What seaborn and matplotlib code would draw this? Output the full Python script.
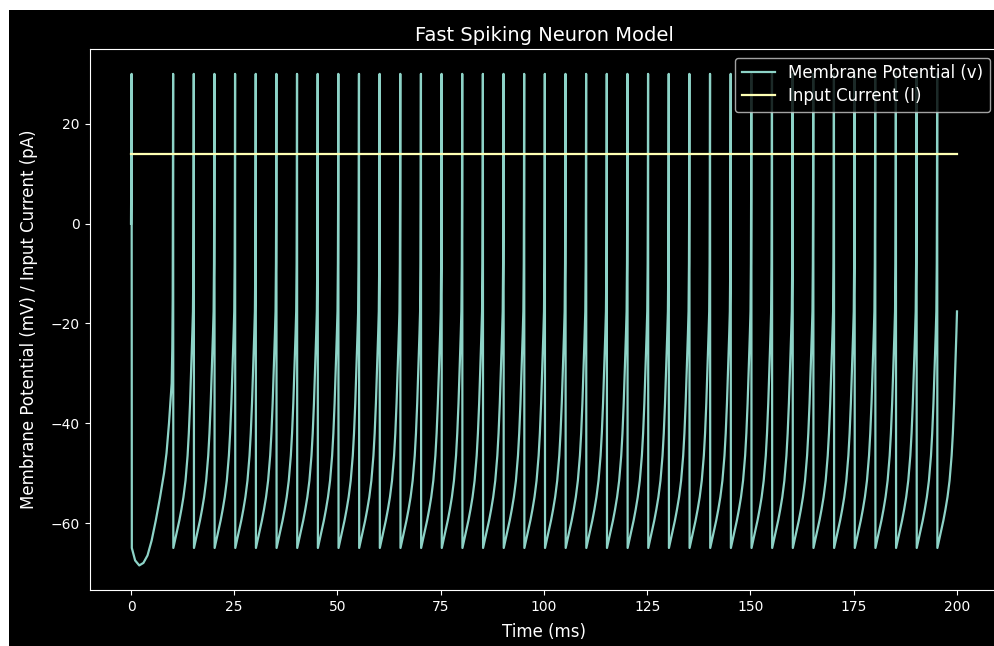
import matplotlib
matplotlib.use("Agg")
import matplotlib.pyplot as plt
from matplotlib.patches import Rectangle
import seaborn as sns
import pandas as pd

# ---- data ----
spike_times = [0.0, 10.2, 15.2, 20.2, 25.2, 30.2, 35.2, 40.2, 45.2, 50.2,
               55.2, 60.2, 65.2, 70.2, 75.2, 80.2, 85.2, 90.2, 95.2, 100.2,
               105.2, 110.2, 115.2, 120.2, 125.2, 130.2, 135.2, 140.2, 145.2,
               150.2, 155.2, 160.2, 165.2, 170.2, 175.2, 180.2, 185.2, 190.2,
               195.2]
spike_peak = 30.0
reset_v = -65.0

# first interval (start of simulation up to second spike)
first_t = [0.0, 0.1, 0.15, 0.2, 1.0, 2.0, 3.0, 4.0, 5.0, 6.0, 7.0, 8.0,
           8.6, 9.2, 9.6, 9.85, 10.0, 10.1]
first_v = [0.0, 15.4, 30.0, -65.0, -67.5, -68.5, -68.0, -66.5, -63.5, -59.5,
           -55.0, -50.0, -46.0, -40.0, -35.0, -32.0, -25.0, -15.0]

# recovery shape after each reset (ms after spike, mV)
isi_offsets = [0.05, 0.5, 1.0, 1.5, 2.0, 2.5, 3.0, 3.5, 3.8, 4.1, 4.3, 4.5,
               4.65, 4.8, 4.9, 4.95]
isi_values = [-65.0, -63.3, -61.5, -59.5, -57.3, -54.8, -51.5, -46.5, -42.0,
              -36.0, -31.0, -26.0, -22.0, -17.6, -8.0, 5.0]

t_end = 200.0
current_t = [0.0, 200.0]
current_I = [14.0, 14.0]

# ---- assemble the membrane trace from the read values ----
t_v = list(first_t)
v_v = list(first_v)
regular = spike_times[1:]
for k, s in enumerate(regular):
    t_v.append(s)
    v_v.append(spike_peak)
    nxt = regular[k + 1] if k + 1 < len(regular) else None
    for off, val in zip(isi_offsets, isi_values):
        tt = s + off
        if nxt is not None and tt >= nxt:
            break
        if tt > t_end + 1e-6:
            break
        t_v.append(tt)
        v_v.append(val)

df_v = pd.DataFrame({"t": t_v, "v": v_v})
df_i = pd.DataFrame({"t": current_t, "I": current_I})

# ---- plot ----
plt.style.use("dark_background")
plt.rcParams["font.family"] = ["DejaVu Sans"]
fig = plt.figure(figsize=(9.95, 6.46), dpi=100)
fig.patch.set_facecolor("black")
ax = fig.add_axes([89.7 / 995, 1 - 590 / 646, 908.6 / 995, (590 - 49.3) / 646])

sns.lineplot(data=df_v, x="t", y="v", ax=ax, color="#8dd3c7",
             label="Membrane Potential (v)", sort=False, estimator=None,
             linewidth=1.6)
sns.lineplot(data=df_i, x="t", y="I", ax=ax, color="#feffb3",
             label="Input Current (I)", sort=False, estimator=None,
             linewidth=1.6)

ax.set_title("Fast Spiking Neuron Model", fontsize=14)
ax.set_xlabel("Time (ms)", fontsize=12, labelpad=7)
ax.set_ylabel("Membrane Potential (mV) / Input Current (pA)", fontsize=12,
              labelpad=9)
ax.tick_params(labelsize=10)
ax.legend(loc="upper right", fontsize=12, labelspacing=0.3)

# white page margins seen at top/left of the reference
fig.patches.append(Rectangle((0, 1 - 10 / 646), 1, 10 / 646,
                             transform=fig.transFigure, facecolor="white",
                             edgecolor="none", zorder=10))
fig.patches.append(Rectangle((0, 0), 9 / 995, 1,
                             transform=fig.transFigure, facecolor="white",
                             edgecolor="none", zorder=10))

fig.savefig("out.png", dpi=100, facecolor=fig.get_facecolor())
